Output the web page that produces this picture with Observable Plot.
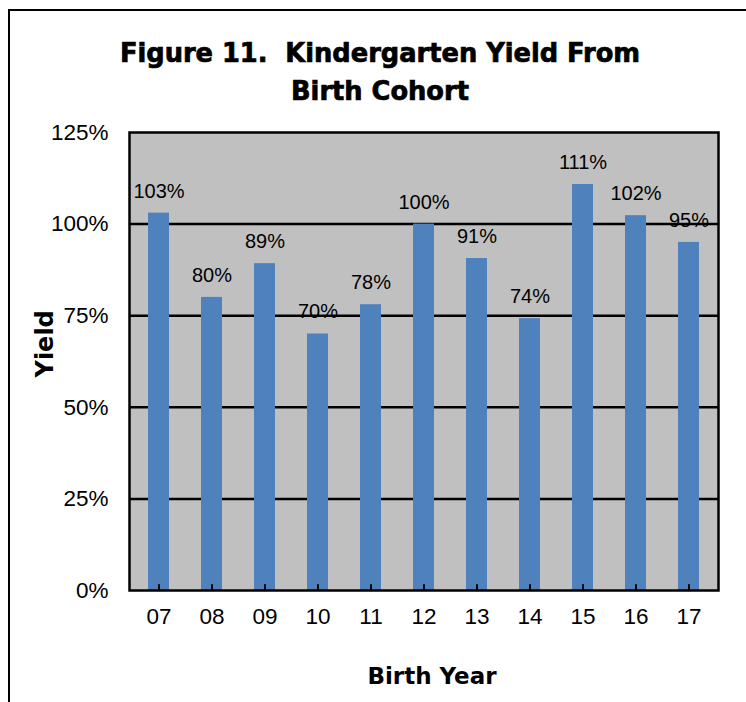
<!DOCTYPE html>
<html><head><meta charset="utf-8">
<script src="https://cdn.jsdelivr.net/npm/d3@7"></script>
<script src="https://cdn.jsdelivr.net/npm/@observablehq/plot@0.6"></script>
<style>
html,body{margin:0;padding:0;background:#fff}
body{width:746px;height:702px;overflow:hidden;position:relative;font-family:"Liberation Sans",Arial,sans-serif}
#border{position:absolute;left:8px;top:9px;width:780px;height:760px;border:2px solid #000;box-sizing:border-box}
#title{position:absolute;left:0;top:34px;width:760px;text-align:center;font-family:"DejaVu Sans",sans-serif;font-weight:bold;font-size:25.7px;line-height:38px;white-space:pre;color:#000;-webkit-text-stroke:0.7px #000}
#chart{position:absolute;left:0;top:110px}
.heavy{-webkit-text-stroke:0.5px #000}
</style></head>
<body>
<div id="border"></div>
<div id="title">Figure 11.  Kindergarten Yield From
Birth Cohort</div>
<div id="chart"></div>
<script>
const years = ["07","08","09","10","11","12","13","14","15","16","17"];
const yieldValues = [1.03, 0.80, 0.892, 0.70, 0.78, 1.00, 0.906, 0.742, 1.108, 1.023, 0.95];
const yTicks = [0, 0.25, 0.5, 0.75, 1.0, 1.25];
const gridValues = [0.25, 0.5, 0.75, 1.0];
const xAxisTitle = "Birth Year";
const yAxisTitle = "Yield";

const data = years.map((y, i) => ({year: y, value: yieldValues[i]}));
const pct = d3.format(".0%");

const chart = Plot.plot({
  width: 746,
  height: 592,
  marginTop: 22,
  marginLeft: 129,
  marginRight: 28,
  marginBottom: 112,
  style: {fontFamily: "'Liberation Sans', Arial, sans-serif", color: "#000", background: "transparent", overflow: "visible"},
  x: {domain: years, paddingInner: 0.6, paddingOuter: 0.3, align: 0.5},
  y: {domain: [0, 1.25]},
  marks: [
    Plot.frame({fill: "#c0c0c0", stroke: null}),
    Plot.ruleY(gridValues, {stroke: "#000", strokeWidth: 2.5}),
    Plot.barY(data, {x: "year", y: "value", fill: "#4f81bd"}),
    Plot.ruleX(years, {x: d => d, y1: 0, y2: 0.016, stroke: "#000", strokeWidth: 2}),
    Plot.frame({stroke: "#000", strokeWidth: 2.5}),
    Plot.text(data, {x: "year", y: "value", text: d => pct(d.value), dy: -22, fontSize: 20, fill: "#000"}),
    Plot.axisX({tickSize: 0, tickPadding: 18, fontSize: 22.5, label: null}),
    Plot.axisY({ticks: yTicks, tickFormat: pct, tickSize: 0, tickPadding: 21, fontSize: 22.5, label: null}),
    Plot.text([xAxisTitle], {text: d => d, frameAnchor: "bottom", dx: 8, dy: 86, lineAnchor: "middle", fontSize: 23, fontWeight: "bold", fontFamily: "DejaVu Sans", fill: "#000", className: "heavy"}),
    Plot.text([yAxisTitle], {text: d => d, frameAnchor: "left", dx: -84, dy: 16, rotate: -90, lineAnchor: "middle", fontSize: 24, fontWeight: "bold", fontFamily: "DejaVu Sans", fill: "#000", className: "heavy"})
  ]
});
document.getElementById("chart").appendChild(chart);
</script>
</body></html>
